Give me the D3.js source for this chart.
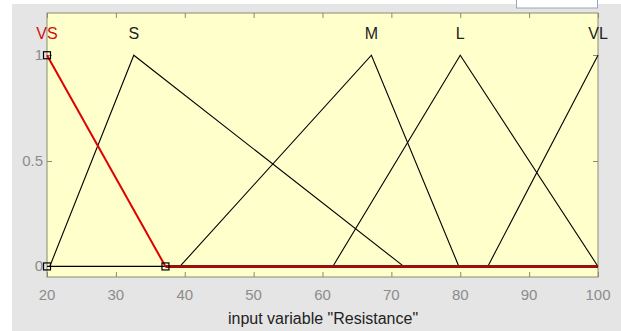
<!DOCTYPE html>
<html>
<head>
<meta charset="utf-8">
<script src="https://cdn.jsdelivr.net/npm/d3@7"></script>
<style>
  body { margin: 0; background: #fff; }
  svg { display: block; }
</style>
</head>
<body>
<svg width="621" height="331"></svg>
<script>
// membership functions of "Resistance"
var mfNames = ['VS', 'S', 'M', 'L', 'VL'];
var mfX = [
  [20, 20, 37.2],
  [20.4, 32.6, 71.8],
  [39.3, 67.1, 79.8],
  [61.5, 80, 100],
  [84, 100, 100]
];
var mfY = [
  [1, 1, 0],
  [0, 1, 0],
  [0, 1, 0],
  [0, 1, 0],
  [0, 1, 1]
];
var selected = 0;
var xTicks = [20, 30, 40, 50, 60, 70, 80, 90, 100];
var yTicks = [0, 0.5, 1];
var xTitle = 'input variable "Resistance"';

var svg = d3.select('svg');
var plotL = 47, plotR = 598, plotT = 13, plotB = 277;
var font = 'Liberation Sans, Arial, sans-serif';

svg.append('rect')
  .attr('x', 12).attr('y', 4).attr('width', 609).attr('height', 327)
  .attr('fill', '#e5e5e5');

svg.append('rect')
  .attr('x', 516.5).attr('y', -1).attr('width', 81).attr('height', 9)
  .attr('fill', '#fff').attr('stroke', '#9aa4b8');

var x = d3.scaleLinear().domain([20, 100]).range([plotL, plotR]);
var y = d3.scaleLinear().domain([-0.05, 1.2]).range([plotB, plotT]);

svg.append('rect')
  .attr('x', plotL).attr('y', plotT)
  .attr('width', plotR - plotL).attr('height', plotB - plotT)
  .attr('fill', '#ffffcc')
  .attr('stroke', '#8a8a70');

var tickColor = '#8a8a70';
var labelColor = '#8c8c8c';

// ticks on all four sides, pointing inward
svg.append('g').selectAll('line').data(xTicks).join('line')
  .attr('x1', d => x(d) + 0.5).attr('x2', d => x(d) + 0.5)
  .attr('y1', plotB).attr('y2', plotB - 5)
  .attr('stroke', tickColor);
svg.append('g').selectAll('line').data(xTicks).join('line')
  .attr('x1', d => x(d) + 0.5).attr('x2', d => x(d) + 0.5)
  .attr('y1', plotT).attr('y2', plotT + 5)
  .attr('stroke', tickColor);
svg.append('g').selectAll('line').data(yTicks).join('line')
  .attr('x1', plotL).attr('x2', plotL + 5)
  .attr('y1', d => Math.round(y(d)) + 0.5).attr('y2', d => Math.round(y(d)) + 0.5)
  .attr('stroke', tickColor);
svg.append('g').selectAll('line').data(yTicks).join('line')
  .attr('x1', plotR).attr('x2', plotR - 5)
  .attr('y1', d => Math.round(y(d)) + 0.5).attr('y2', d => Math.round(y(d)) + 0.5)
  .attr('stroke', tickColor);

svg.append('g').selectAll('text').data(xTicks).join('text')
  .attr('x', d => x(d)).attr('y', 300)
  .attr('text-anchor', 'middle')
  .attr('font-family', font)
  .attr('font-size', 15).attr('fill', labelColor)
  .text(d => d);
svg.append('g').selectAll('text').data(yTicks).join('text')
  .attr('x', plotL - 4).attr('y', d => y(d) + 5)
  .attr('text-anchor', 'end')
  .attr('font-family', font)
  .attr('font-size', 15).attr('fill', labelColor)
  .text(d => d);

svg.append('text')
  .attr('x', 323).attr('y', 324)
  .attr('text-anchor', 'middle')
  .attr('font-family', font)
  .attr('font-size', 16).attr('fill', '#222')
  .text(xTitle);

var line = d3.line().x(d => x(d[0])).y(d => y(d[1]));

// zero baseline from the other functions
svg.append('path')
  .attr('d', line([[20, 0], [100, 0]]))
  .attr('fill', 'none').attr('stroke', '#000').attr('stroke-width', 1.2);

mfNames.forEach(function(name, i) {
  if (i === selected) return;
  var pts = mfX[i].map((v, k) => [v, mfY[i][k]]);
  svg.append('path')
    .attr('d', line(pts))
    .attr('fill', 'none').attr('stroke', '#000').attr('stroke-width', 1.1);
});

// selected function in red, its zero part to the right end
var selPts = mfX[selected].map((v, k) => [v, mfY[selected][k]]);
svg.append('path')
  .attr('d', line([selPts[selPts.length - 1], [100, 0]]))
  .attr('fill', 'none').attr('stroke', '#9a1010').attr('stroke-width', 3);
svg.append('path')
  .attr('d', line(selPts))
  .attr('fill', 'none').attr('stroke', '#e00000').attr('stroke-width', 2);

// handles
var handles = [[20, 1], [20, 0], [mfX[selected][2], 0]];
svg.append('g').selectAll('rect').data(handles).join('rect')
  .attr('x', d => x(d[0]) - 3.5).attr('y', d => y(d[1]) - 3.5)
  .attr('width', 7).attr('height', 7)
  .attr('fill', 'none').attr('stroke', '#000').attr('stroke-width', 1.2);

// labels above the peaks
svg.append('g').selectAll('text').data(mfNames).join('text')
  .attr('x', (d, i) => x(d3.mean(mfX[i].filter((v, k) => mfY[i][k] === 1))))
  .attr('y', 39)
  .attr('text-anchor', 'middle')
  .attr('font-family', font)
  .attr('font-size', 16)
  .attr('fill', (d, i) => i === selected ? '#d01010' : '#222')
  .text(d => d);
</script>
</body>
</html>
